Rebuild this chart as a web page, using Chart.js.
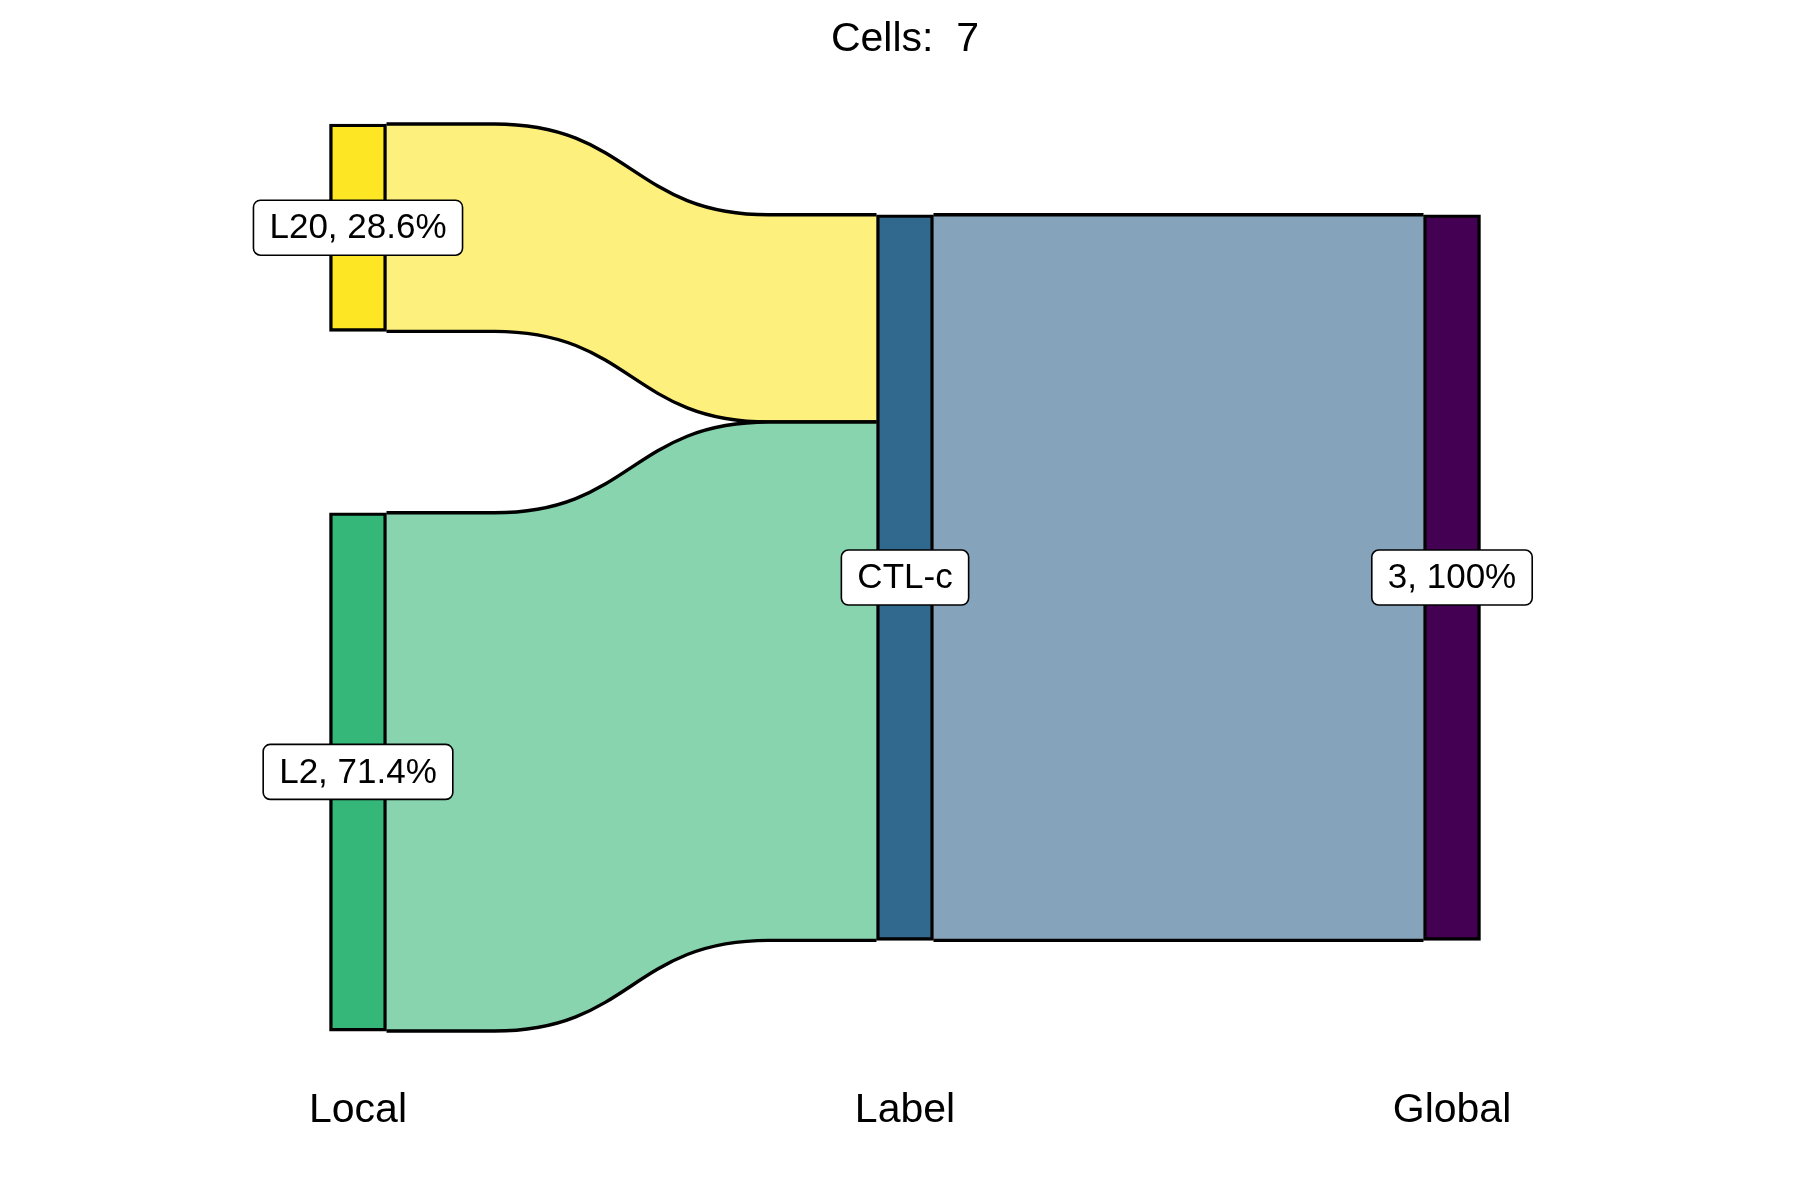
<!DOCTYPE html>
<html><head><meta charset="utf-8">
<script src="https://cdn.jsdelivr.net/npm/chart.js@4.4.0/dist/chart.umd.min.js"></script>
<style>html,body{margin:0;padding:0;background:#fff}#wrap{width:1800px;height:1200px}</style>
</head><body><div id="wrap"><canvas id="c" width="1800" height="1200"></canvas></div>
<script>
const titleText = 'Cells:  7';
const axisNames = ['Local', 'Label', 'Global'];
const nodeNames = ['L20', 'L2', 'CTL-c', '3'];
const nodeAxis = [0, 0, 1, 2];
const nodeCounts = [2, 5, 7, 7];
const nodeLabels = ['L20, 28.6%', 'L2, 71.4%', 'CTL-c', '3, 100%'];
const nodeColors = ['#FDE725', '#35B779', '#31688E', '#440154'];
const flowFrom = ['L20', 'L2', 'CTL-c'];
const flowTo = ['CTL-c', 'CTL-c', '3'];
const flowCounts = [2, 5, 7];
const flowColors = ['#FEF07D', '#87D4AF', '#85A4BB'];
const stratumGap = 1.75;
const yMin = -0.577;
const yMax = 9.278;

const FONT = '"Liberation Sans", Arial, sans-serif';

// stack strata on each axis, centred
const axisTotals = axisNames.map((_, a) => {
  let s = 0, n = 0;
  nodeAxis.forEach((ax, i) => { if (ax === a) { s += nodeCounts[i]; n++; } });
  return s + (n - 1) * stratumGap;
});
const maxTotal = Math.max(...axisTotals);
const cursor = axisTotals.map(t => (maxTotal - t) / 2);
const nodeRanges = nodeNames.map((_, i) => {
  const a = nodeAxis[i];
  const lo = cursor[a];
  cursor[a] = lo + nodeCounts[i] + stratumGap;
  return [lo, lo + nodeCounts[i]];
});
const outPos = nodeRanges.map(r => r[0]);
const inPos = nodeRanges.map(r => r[0]);
const flowRanges = flowFrom.map((f, k) => {
  const i = nodeNames.indexOf(f), j = nodeNames.indexOf(flowTo[k]);
  const a = [outPos[i], outPos[i] + flowCounts[k]];
  const b = [inPos[j], inPos[j] + flowCounts[k]];
  outPos[i] += flowCounts[k]; inPos[j] += flowCounts[k];
  return { i, j, a, b, color: flowColors[k] };
});

function curveFwd(ctx, x0, ya, x1, yb) {
  const d = x1 - x0, xa = x0 + 0.22 * d, xb = x1 - 0.22 * d, xm = (x0 + x1) / 2;
  ctx.lineTo(xa, ya);
  ctx.bezierCurveTo(xm, ya, xm, yb, xb, yb);
  ctx.lineTo(x1, yb);
}

const flowPlugin = {
  id: 'flows',
  beforeDatasetsDraw(chart) {
    const ctx = chart.ctx, ys = chart.scales.y;
    flowRanges.forEach(f => {
      const ei = chart.getDatasetMeta(f.i).data[nodeAxis[f.i]];
      const ej = chart.getDatasetMeta(f.j).data[nodeAxis[f.j]];
      const x0 = ei.x + ei.width / 2, x1 = ej.x - ej.width / 2;
      const t0 = ys.getPixelForValue(f.a[0]), b0 = ys.getPixelForValue(f.a[1]);
      const t1 = ys.getPixelForValue(f.b[0]), b1 = ys.getPixelForValue(f.b[1]);
      ctx.save();
      ctx.beginPath();
      ctx.moveTo(x0, t0);
      curveFwd(ctx, x0, t0, x1, t1);
      ctx.lineTo(x1, b1);
      const d = x1 - x0, xa = x0 + 0.22 * d, xb = x1 - 0.22 * d, xm = (x0 + x1) / 2;
      ctx.lineTo(xb, b1);
      ctx.bezierCurveTo(xm, b1, xm, b0, xa, b0);
      ctx.lineTo(x0, b0);
      ctx.closePath();
      ctx.fillStyle = f.color;
      ctx.fill();
      ctx.lineWidth = 3.4;
      ctx.strokeStyle = '#000';
      ctx.lineJoin = 'round';
      ctx.beginPath(); ctx.moveTo(x0, t0); curveFwd(ctx, x0, t0, x1, t1); ctx.stroke();
      ctx.beginPath(); ctx.moveTo(x0, b0); curveFwd(ctx, x0, b0, x1, b1); ctx.stroke();
      ctx.restore();
    });
  }
};

const labelPlugin = {
  id: 'nodeLabels',
  afterDatasetsDraw(chart) {
    const ctx = chart.ctx, ys = chart.scales.y;
    ctx.save();
    ctx.font = '35px ' + FONT;
    nodeNames.forEach((_, i) => {
      const el = chart.getDatasetMeta(i).data[nodeAxis[i]];
      const cx = el.x;
      const cy = ys.getPixelForValue((nodeRanges[i][0] + nodeRanges[i][1]) / 2);
      const tw = ctx.measureText(nodeLabels[i]).width;
      const w = tw + 32, h = 55;
      ctx.beginPath();
      ctx.roundRect(cx - w / 2, cy - h / 2, w, h, 7);
      ctx.fillStyle = '#fff';
      ctx.fill();
      ctx.lineWidth = 1.6;
      ctx.strokeStyle = '#000';
      ctx.stroke();
      ctx.fillStyle = '#000';
      ctx.textAlign = 'center';
      ctx.textBaseline = 'middle';
      ctx.fillText(nodeLabels[i], cx, cy + 1);
    });
    ctx.restore();
  }
};

new Chart(document.getElementById('c'), {
  type: 'bar',
  data: {
    labels: axisNames,
    datasets: nodeNames.map((name, i) => ({
      label: name,
      data: axisNames.map((_, a) => a === nodeAxis[i] ? nodeRanges[i] : null),
      backgroundColor: nodeColors[i],
      borderColor: '#000',
      borderWidth: 3.4,
      borderSkipped: false,
      barThickness: 57,
      grouped: false
    }))
  },
  options: {
    responsive: false,
    animation: false,
    devicePixelRatio: 1,
    layout: { padding: { left: 84.5, right: 74.5, top: 0, bottom: 65 } },
    plugins: {
      legend: { display: false },
      tooltip: { enabled: false },
      title: {
        display: true, text: titleText, color: '#000',
        font: { size: 41, family: FONT, weight: 'normal' },
        padding: { top: 15, bottom: 0 }
      }
    },
    scales: {
      x: {
        type: 'category',
        grid: { display: false, drawTicks: false },
        border: { display: false },
        ticks: { color: '#000', font: { size: 41, family: FONT }, padding: 0 }
      },
      y: {
        type: 'linear', display: false, reverse: true, min: yMin, max: yMax
      }
    }
  },
  plugins: [flowPlugin, labelPlugin]
});
</script>
</body></html>
